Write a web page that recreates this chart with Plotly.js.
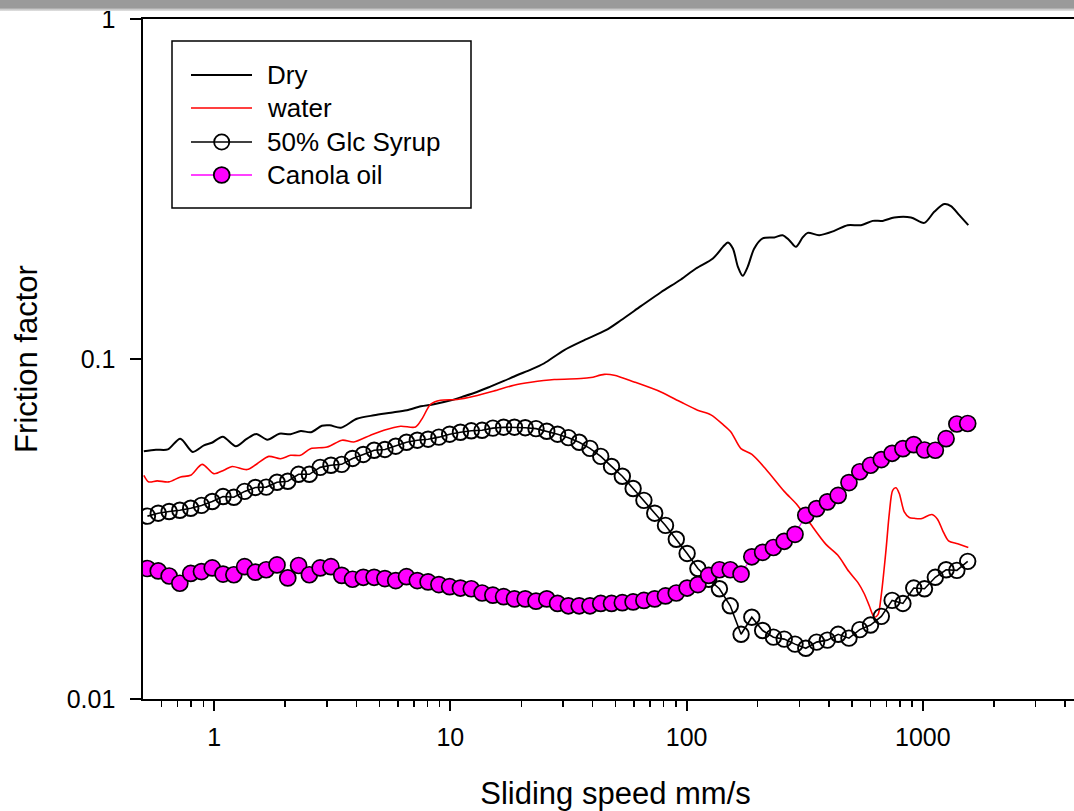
<!DOCTYPE html>
<html>
<head>
<meta charset="utf-8">
<script src="https://cdn.plot.ly/plotly-3.0.1.min.js"></script>
<style>
  html, body { margin: 0; padding: 0; overflow: hidden; background: #fff; }
  #wrap { position: relative; width: 1074px; height: 811px; overflow: hidden; }
  #topbar { position: absolute; left: 0; top: 0; width: 1074px; height: 11px; z-index: 5;
    background: linear-gradient(to bottom, #9a9a9a 0px, #9a9a9a 8px, #c4c4c4 9px, #e2e2e2 11px); }
  #chart { position: absolute; left: 0; top: 0; }
</style>
</head>
<body>
<div id="wrap">
  <div id="topbar"></div>
  <div id="chart"></div>
</div>
<script>
// Sliding speed grid (mm/s) shared by the two marker series
const speedGrid = [0.522,0.580,0.645,0.716,0.796,0.884,0.982,1.091,1.212,1.346,
  1.495,1.661,1.846,2.050,2.278,2.530,2.811,3.123,3.469,3.854,
  4.281,4.757,5.284,5.870,6.521,7.244,8.048,8.941,9.931,11.03,
  12.26,13.62,15.13,16.80,18.67,20.74,23.04,25.59,28.43,31.59,
  35.09,38.98,43.30,48.10,53.44,59.37,65.95,73.28,81.40,90.43,
  100.5,111.6,124.0,137.7,153.0,170.0,188.8,209.8,233.0,258.9,
  287.6,319.5,354.9,394.3,438.0,486.6,540.6,600.5,667.1,741.1,
  823.3,914.7,1016,1129,1254,1393,1548];

// 50% glucose syrup friction factor
const syrupFriction = [0.0345,0.0352,0.0356,0.0359,0.0364,0.0371,0.0381,0.0394,0.0392,0.0408,
  0.0419,0.0420,0.0434,0.0437,0.0458,0.0458,0.0480,0.0487,0.0490,0.0510,
  0.0524,0.0539,0.0542,0.0554,0.0569,0.0577,0.0581,0.0589,0.0601,0.0609,
  0.0615,0.0617,0.0626,0.0630,0.0630,0.0628,0.0624,0.0613,0.0601,0.0587,
  0.0569,0.0546,0.0517,0.0483,0.0452,0.0416,0.0384,0.0352,0.0324,0.0295,
  0.0268,0.0242,0.0225,0.0211,0.0188,0.0155,0.0174,0.0159,0.0152,0.0150,
  0.0145,0.0141,0.0147,0.0149,0.0155,0.0151,0.0160,0.0165,0.0175,0.0195,
  0.0191,0.0212,0.0211,0.0228,0.0240,0.0239,0.0254];

// Canola oil friction factor
const canolaFriction = [0.0242,0.0238,0.0230,0.0219,0.0234,0.0237,0.0243,0.0233,0.0232,0.0245,
  0.0236,0.0240,0.0248,0.0227,0.0247,0.0232,0.0243,0.0245,0.0231,0.0225,
  0.0228,0.0228,0.0226,0.0223,0.0229,0.0223,0.0221,0.0217,0.0214,0.0212,
  0.0211,0.0205,0.0202,0.0200,0.0197,0.0197,0.0194,0.0197,0.0191,0.0188,
  0.0188,0.0188,0.0191,0.0191,0.0192,0.0193,0.0195,0.0197,0.0201,0.0205,
  0.0212,0.0217,0.0231,0.0240,0.0240,0.0233,0.0262,0.0270,0.0279,0.0291,
  0.0305,0.0347,0.0363,0.0380,0.0397,0.0433,0.0466,0.0487,0.0506,0.0528,
  0.0545,0.0560,0.0540,0.0539,0.0583,0.0644,0.0646];

// Dry contact curve
const drySpeed = [0.504,0.567,0.637,0.719,0.812,0.905,0.978,1.088,1.236,1.368,
  1.509,1.680,1.888,2.108,2.328,2.568,2.858,3.089,3.439,4.019,
  4.745,5.600,6.544,7.502,8.513,10.05,11.41,12.95,14.84,16.85,
  19.12,21.92,24.88,30.23,36.75,45.53,52.70,64.05,77.85,94.6,
  109.5,129.2,142.5,149.6,157.0,164.9,172.7,181.3,193.3,209.8,
  234.9,254.9,271.9,290.2,309.8,325.3,364.2,421.6,480.3,547.0,
  613.1,675.8,756.8,890.4,1014,1117,1232,1315,1426,1557];
const dryFriction = [0.0535,0.0541,0.0542,0.0583,0.0533,0.0557,0.0567,0.0591,0.0554,0.0581,
  0.0602,0.0579,0.0603,0.0601,0.0614,0.0609,0.0636,0.0638,0.0628,0.0667,
  0.0683,0.0695,0.0707,0.0726,0.0736,0.0756,0.0777,0.0800,0.0831,0.0862,
  0.0896,0.0931,0.0970,0.1061,0.1135,0.1215,0.1300,0.1430,0.1572,0.1713,
  0.1846,0.1975,0.2137,0.2202,0.2114,0.1866,0.1756,0.1866,0.2114,0.2262,
  0.2278,0.2313,0.2236,0.2137,0.2278,0.2350,0.2313,0.2382,0.2475,0.2475,
  0.2548,0.2548,0.2607,0.2607,0.2514,0.2709,0.2855,0.2816,0.2649,0.2475];

// Water-lubricated curve
const waterSpeed = [0.504,0.529,0.574,0.643,0.721,0.795,0.890,0.997,1.099,1.192,
  1.379,1.521,1.704,1.910,2.106,2.321,2.559,3.009,3.483,3.904,
  4.594,5.231,6.155,7.123,7.597,8.246,9.090,10.69,12.58,15.29,
  18.57,21.92,27.51,35.69,39.34,44.78,49.37,60.00,77.85,94.6,
  111.3,126.7,142.0,154.0,169.8,189.0,216.6,258.9,295.1,336.0,
  388.9,435.9,486.5,531.2,564.9,593.1,622.8,645.6,664.8,698.1,
  720.9,745.1,769.4,794.6,834.3,875.9,919.6,981.7,1093,1153,
  1213,1284,1404,1557];
const waterFriction = [0.0455,0.0435,0.0438,0.0435,0.0450,0.0455,0.0490,0.0460,0.0471,0.0483,
  0.0473,0.0492,0.0517,0.0509,0.0521,0.0521,0.0545,0.0551,0.0577,0.0570,
  0.0597,0.0617,0.0634,0.0631,0.0668,0.0736,0.0756,0.0760,0.0777,0.0805,
  0.0837,0.0854,0.0870,0.0876,0.0882,0.0901,0.0896,0.0856,0.0800,0.0747,
  0.0707,0.0685,0.0643,0.0610,0.0545,0.0524,0.0474,0.0408,0.0371,0.0326,
  0.0285,0.0265,0.0237,0.0220,0.0204,0.0188,0.0174,0.0177,0.0199,0.0274,
  0.0351,0.0411,0.0418,0.0402,0.0355,0.0342,0.0340,0.0339,0.0349,0.0338,
  0.0313,0.0292,0.0286,0.0279];

const seriesNames = ['Dry', 'water', '50% Glc Syrup', 'Canola oil'];
const xTickVals = [1, 10, 100, 1000];
const xTickText = ['1', '10', '100', '1000'];
const xMinorVals = [0.6,0.7,0.8,0.9,2,3,4,5,6,7,8,9,20,30,40,50,60,70,80,90,
  200,300,400,500,600,700,800,900,2000,3000,4000];
const yTickVals = [0.01, 0.1, 1];
const yTickText = ['0.01', '0.1', '1'];
const xRange = [0.5, 5000];
const yRange = [0.01, 1];

const FONT = 'Liberation Sans, Arial, Helvetica, sans-serif';
const MAGENTA = '#ff00ff';

// plot geometry (px)
const W = 1090, H = 811, ML = 143, MR = 2, MT = 19, MB = 112;
const PW = W - ML - MR, PH = H - MT - MB;
const px = v => (v - ML) / PW;
const py = v => (MT + PH - v) / PH;

const traces = [
  { x: drySpeed, y: dryFriction, name: seriesNames[0], mode: 'lines',
    line: { color: '#000', width: 2, shape: 'spline', smoothing: 0.8 } },
  { x: waterSpeed, y: waterFriction, name: seriesNames[1], mode: 'lines',
    line: { color: '#ff0000', width: 1.6, shape: 'spline', smoothing: 0.8 } },
  { x: speedGrid, y: syrupFriction, name: seriesNames[2], mode: 'lines+markers',
    line: { color: '#000', width: 1.6 },
    marker: { symbol: 'circle-open', size: 15.5, color: '#000', line: { width: 1.9, color: '#000' } } },
  { x: speedGrid, y: canolaFriction, name: seriesNames[3], mode: 'lines+markers',
    line: { color: MAGENTA, width: 1.2 },
    marker: { symbol: 'circle', size: 16, color: MAGENTA, line: { width: 1.7, color: '#000' } } }
];

// Legend box drawn in pixel space
const legendRows = [75, 108, 142, 175];
const legendStyles = [
  { color: '#000', width: 2, marker: null, r: 0 },
  { color: '#ff0000', width: 1.6, marker: null, r: 0 },
  { color: '#000', width: 1.6, marker: 'rgba(0,0,0,0)', r: 7.6 },
  { color: MAGENTA, width: 1.4, marker: MAGENTA, r: 7.9 }
];
const shapes = [
  { type: 'rect', xref: 'paper', yref: 'paper', x0: px(172), x1: px(471), y0: py(41), y1: py(208),
    line: { color: '#000', width: 1.5 }, fillcolor: '#fff', layer: 'above' }
];
const annotations = [];
legendRows.forEach((ry, i) => {
  const st = legendStyles[i];
  shapes.push({ type: 'line', xref: 'paper', yref: 'paper', x0: px(191), x1: px(252), y0: py(ry), y1: py(ry),
    line: { color: st.color, width: st.width }, layer: 'above' });
  if (st.marker) {
    shapes.push({ type: 'circle', xref: 'paper', yref: 'paper', xsizemode: 'pixel', ysizemode: 'pixel',
      xanchor: px(221.7), yanchor: py(ry), x0: -st.r, x1: st.r, y0: -st.r, y1: st.r,
      line: { color: '#000', width: 1.8 }, fillcolor: st.marker, layer: 'above' });
  }
  annotations.push({ xref: 'paper', yref: 'paper', x: px(265), y: py(ry), xanchor: 'left', yanchor: 'middle',
    text: seriesNames[i], showarrow: false, font: { family: FONT, size: 26, color: '#000' } });
});

const layout = {
  width: W, height: H,
  margin: { l: ML, r: MR, t: MT, b: MB, pad: 0 },
  paper_bgcolor: '#fff', plot_bgcolor: '#fff',
  showlegend: false,
  font: { family: FONT, color: '#000' },
  xaxis: {
    type: 'log', range: xRange.map(Math.log10), autorange: false,
    showgrid: false, zeroline: false,
    showline: true, linecolor: '#000', linewidth: 2.2, mirror: true,
    ticks: 'outside', ticklen: 10, tickwidth: 2, tickcolor: '#000',
    tickmode: 'array', tickvals: xTickVals, ticktext: xTickText,
    tickfont: { family: FONT, size: 25, color: '#000' }, ticklabelstandoff: 5,
    minor: { tickmode: 'array', tickvals: xMinorVals, ticks: 'outside', ticklen: 6,
      tickwidth: 1.5, tickcolor: '#000', showgrid: false },
    title: { text: 'Sliding speed mm/s', font: { family: FONT, size: 31, color: '#000' }, standoff: 34 }
  },
  yaxis: {
    type: 'log', range: yRange.map(Math.log10), autorange: false,
    showgrid: false, zeroline: false,
    showline: true, linecolor: '#000', linewidth: 1.6,
    ticks: 'outside', ticklen: 11, tickwidth: 1.6, tickcolor: '#000',
    tickmode: 'array', tickvals: yTickVals, ticktext: yTickText,
    tickfont: { family: FONT, size: 25, color: '#000' }, ticklabelstandoff: 10,
    title: { text: 'Friction factor', font: { family: FONT, size: 31, color: '#000' }, standoff: 20 }
  },
  shapes: shapes,
  annotations: annotations
};

Plotly.newPlot('chart', traces, layout, { displayModeBar: false, staticPlot: true });
</script>
</body>
</html>
